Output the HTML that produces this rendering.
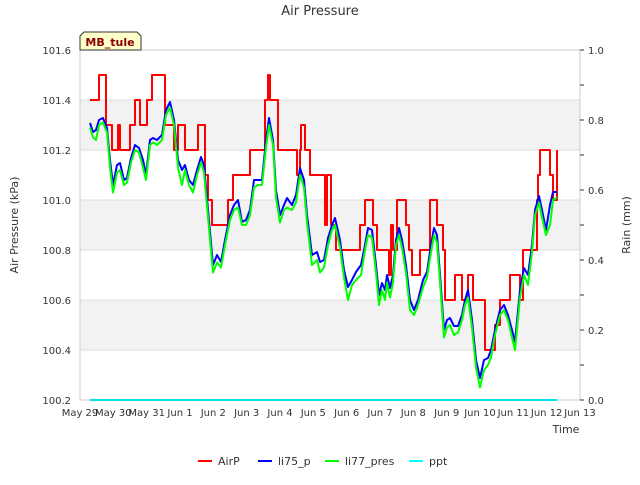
<!DOCTYPE html>
<html><head><meta charset="utf-8"><style>
body{margin:0;background:#fff;font-family:"Liberation Sans","DejaVu Sans",sans-serif;}
svg text{font-family:"DejaVu Sans","Liberation Sans",sans-serif;}
</style></head><body>
<svg id="chart" width="640" height="480" viewBox="0 0 640 480" xmlns="http://www.w3.org/2000/svg">
<rect width="640" height="480" fill="#fff"/>
<g id="bands"></g>
<g id="grid"></g>
<rect x="80" y="50" width="500" height="350" fill="none" stroke="#ccc"/>
<text x="320" y="15" text-anchor="middle" font-size="13" fill="#333">Air Pressure</text>
<text x="18" y="225" text-anchor="middle" font-size="11" fill="#333" transform="rotate(-90 18 225)">Air Pressure (kPa)</text>
<text x="630" y="225" text-anchor="middle" font-size="11" fill="#333" transform="rotate(-90 630 225)">Rain (mm)</text>
<text x="566" y="433" text-anchor="middle" font-size="11" fill="#333">Time</text>
<g id="axes"></g>
<g id="series"></g>
<g>
<path d="M80,50 L80,36 L84,32 L137,32 L141,36 L141,50 Z" fill="#ffffcc" stroke="#333"/>
<text x="110" y="46" text-anchor="middle" font-size="11" font-weight="bold" fill="#8b0000">MB_tule</text>
</g>
<g id="legend">
<line x1="198" y1="461" x2="212" y2="461" stroke="#f00" stroke-width="2"/><text x="218" y="465" font-size="11" fill="#333">AirP</text>
<line x1="258" y1="461" x2="272" y2="461" stroke="#00f" stroke-width="2"/><text x="278" y="465" font-size="11" fill="#333">li75_p</text>
<line x1="325" y1="461" x2="339" y2="461" stroke="#0f0" stroke-width="2"/><text x="345" y="465" font-size="11" fill="#333">li77_pres</text>
<line x1="409" y1="461" x2="423" y2="461" stroke="#0ff" stroke-width="2"/><text x="429" y="465" font-size="11" fill="#333">ppt</text>
</g>
</svg>
<script>
const xLabels=["May 29","May 30","May 31","Jun 1","Jun 2","Jun 3","Jun 4","Jun 5","Jun 6","Jun 7","Jun 8","Jun 9","Jun 10","Jun 11","Jun 12","Jun 13"];
const yTicks=[100.2,100.4,100.6,100.8,101.0,101.2,101.4,101.6];
const y2Ticks=[0.0,0.2,0.4,0.6,0.8,1.0];
const blueT=[0.30,0.39,0.48,0.57,0.69,0.81,0.90,0.99,1.11,1.20,1.32,1.41,1.53,1.65,1.77,1.89,1.98,2.10,2.19,2.31,2.46,2.58,2.70,2.82,2.94,3.06,3.15,3.27,3.39,3.51,3.63,3.72,3.84,3.99,4.11,4.23,4.35,4.50,4.62,4.74,4.86,4.98,5.10,5.22,5.34,5.46,5.58,5.67,5.79,5.88,6.00,6.12,6.21,6.36,6.48,6.60,6.72,6.81,6.96,7.11,7.20,7.32,7.44,7.56,7.65,7.80,7.92,8.04,8.16,8.28,8.43,8.55,8.64,8.76,8.88,8.97,9.06,9.15,9.21,9.30,9.39,9.48,9.57,9.66,9.78,9.90,10.02,10.14,10.29,10.41,10.53,10.62,10.71,10.80,10.92,11.01,11.10,11.22,11.34,11.46,11.55,11.64,11.76,11.88,12.00,12.12,12.24,12.33,12.45,12.60,12.72,12.84,12.96,13.05,13.20,13.32,13.44,13.56,13.65,13.77,13.86,13.98,14.10,14.19,14.31];
const li75=[101.308,101.272,101.28,101.32,101.328,101.288,101.16,101.06,101.14,101.148,101.08,101.088,101.168,101.22,101.208,101.16,101.10,101.24,101.248,101.24,101.26,101.36,101.392,101.32,101.16,101.12,101.14,101.08,101.06,101.12,101.172,101.14,100.96,100.74,100.78,100.752,100.84,100.94,100.98,101.00,100.912,100.92,100.96,101.08,101.08,101.08,101.24,101.328,101.24,101.04,100.94,100.98,101.008,100.98,101.02,101.128,101.08,100.94,100.78,100.792,100.752,100.76,100.848,100.90,100.928,100.84,100.72,100.652,100.68,100.712,100.74,100.82,100.888,100.88,100.74,100.62,100.668,100.64,100.70,100.648,100.70,100.84,100.888,100.84,100.74,100.60,100.56,100.60,100.68,100.712,100.82,100.888,100.86,100.70,100.48,100.52,100.528,100.496,100.496,100.54,100.60,100.64,100.52,100.36,100.288,100.36,100.368,100.40,100.48,100.56,100.58,100.54,100.48,100.432,100.64,100.728,100.70,100.82,100.96,101.016,100.96,100.88,100.98,101.032,101.032];
const li77=[101.29,101.25,101.24,101.30,101.31,101.27,101.13,101.03,101.11,101.12,101.06,101.07,101.15,101.20,101.19,101.13,101.08,101.22,101.23,101.22,101.24,101.34,101.37,101.30,101.13,101.06,101.12,101.06,101.03,101.10,101.15,101.11,100.93,100.71,100.75,100.73,100.82,100.92,100.96,100.97,100.90,100.90,100.94,101.05,101.06,101.06,101.21,101.30,101.22,101.01,100.91,100.96,100.97,100.96,100.99,101.10,101.05,100.91,100.74,100.76,100.71,100.73,100.82,100.88,100.90,100.81,100.69,100.60,100.66,100.68,100.70,100.80,100.86,100.85,100.71,100.58,100.64,100.60,100.67,100.61,100.67,100.82,100.86,100.81,100.71,100.56,100.54,100.58,100.65,100.69,100.79,100.86,100.83,100.67,100.45,100.49,100.50,100.46,100.47,100.52,100.58,100.61,100.49,100.33,100.25,100.32,100.34,100.37,100.46,100.54,100.56,100.52,100.45,100.40,100.61,100.70,100.66,100.79,100.94,100.99,100.93,100.86,100.90,101.00,101.01];
const airT=[0.30,0.57,0.78,0.96,1.14,1.20,1.26,1.50,1.65,1.80,2.01,2.16,2.55,2.82,2.94,3.15,3.21,3.27,3.54,3.75,3.84,3.96,4.44,4.59,5.10,5.55,5.64,5.70,5.94,6.51,6.60,6.63,6.75,6.90,7.35,7.41,7.53,7.68,8.40,8.55,8.79,8.91,9.27,9.33,9.39,9.51,9.78,9.87,9.96,10.20,10.50,10.71,10.89,10.95,11.25,11.46,11.64,11.79,12.15,12.45,12.60,12.90,13.20,13.29,13.59,13.71,13.74,13.80,14.10,14.19,14.31];
const airP=[101.4,101.5,101.3,101.2,101.3,101.2,101.2,101.3,101.4,101.3,101.4,101.5,101.3,101.2,101.3,101.2,101.2,101.2,101.3,101.1,101.0,100.9,101.0,101.1,101.2,101.4,101.5,101.4,101.2,101.1,101.2,101.3,101.2,101.1,100.9,101.1,100.9,100.8,100.9,101.0,100.9,100.8,100.7,100.9,100.8,101.0,100.9,100.8,100.7,100.8,101.0,100.9,100.8,100.6,100.7,100.6,100.7,100.6,100.4,100.5,100.6,100.7,100.6,100.8,100.8,101.0,101.1,101.2,101.1,101.0,101.2];
const rainT=[0.30,14.31];
const rain=[0,0];

const NS="http://www.w3.org/2000/svg";
const X0=80,X1=580,Y0=400,Y1=50;
const xs=d=>X0+d*(X1-X0)/15;
const ys=v=>Y0-(v-100.2)*(Y0-Y1)/1.4;
const y2s=v=>Y0-v*(Y0-Y1);
function mk(tag,attrs,parent){const e=document.createElementNS(NS,tag);for(const k in attrs)e.setAttribute(k,attrs[k]);parent.appendChild(e);return e;}
const bands=document.getElementById('bands'),grid=document.getElementById('grid'),axes=document.getElementById('axes'),series=document.getElementById('series');
for(let i=0;i<yTicks.length-1;i++){
  if(i%2===1){const r=mk('rect',{x:X0,y:ys(yTicks[i+1]),width:X1-X0,height:ys(yTicks[i])-ys(yTicks[i+1]),fill:'#f2f2f2'},bands);
  
  }
}
yTicks.forEach(v=>{
  const l=mk('line',{x1:X0,x2:X1,y1:ys(v),y2:ys(v),stroke:'#ddd'},grid);
  
  
  const t=mk('text',{x:X0-9,y:ys(v)+4,'text-anchor':'end','font-size':'10',fill:'#333'},axes);
  t.textContent=v.toFixed(1);
  
  
});
for(let i=0;i<=10;i++){
  const v=i/10;
  mk('line',{x1:X1,x2:X1+4,y1:y2s(v),y2:y2s(v),stroke:'#333'},axes);
}
y2Ticks.forEach(v=>{
  const t=mk('text',{x:X1+8,y:y2s(v)+4,'font-size':'10',fill:'#333'},axes);
  t.textContent=v.toFixed(1);
  
  
});
xLabels.forEach((s,i)=>{
  const t=mk('text',{x:xs(i),y:416,'text-anchor':'middle','font-size':'10',fill:'#333'},axes);
  t.textContent=s;
  
  
});
function line(T,V,sc,color,name,step){
  let d='';
  for(let i=0;i<T.length;i++){
    const x=xs(T[i]),y=sc(V[i]);
    if(i===0)d='M'+x+','+y;
    else if(step)d+=' L'+x+','+sc(V[i-1])+' L'+x+','+y;
    else d+=' L'+x+','+y;
  }
  const p=mk('path',{d:d,fill:'none',stroke:color,'stroke-width':'2','stroke-linejoin':'round'},series);
  
  
}
line(rainT,rain,y2s,'#00e5ee','ppt-line',false);
line(airT,airP,ys,'#f00','airp-line',true);
line(blueT,li75,ys,'#00f','li75-line',false);
line(blueT,li77,ys,'#0f0','li77-line',false);
</script>
</body></html>
